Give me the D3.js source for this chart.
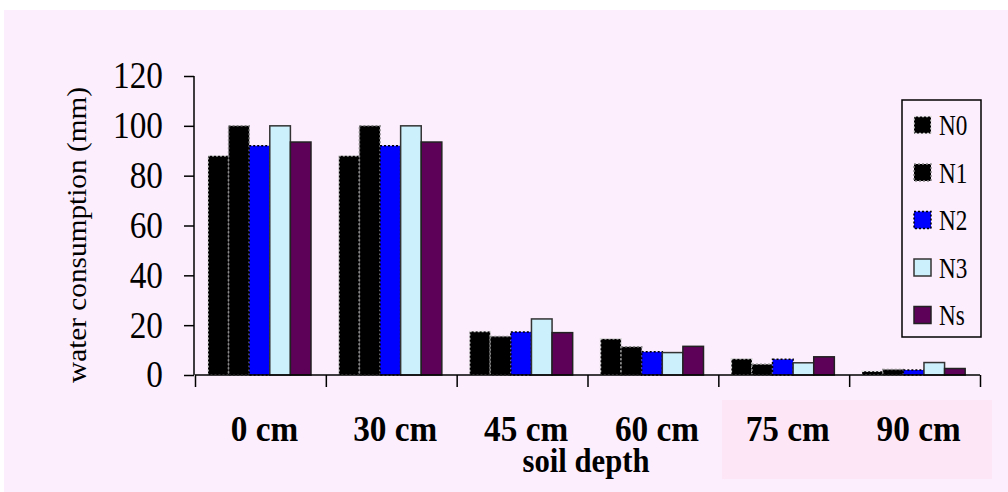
<!DOCTYPE html>
<html>
<head>
<meta charset="utf-8">
<script src="https://cdn.jsdelivr.net/npm/d3@7"></script>
<style>
  body { margin: 0; background: #fff; }
  svg { display: block; }
</style>
</head>
<body>
<script>
// data
var categories = ["0 cm", "30 cm", "45 cm", "60 cm", "75 cm", "90 cm"];
var series = ["N0", "N1", "N2", "N3", "Ns"];
var N0 = [88, 88, 17.5, 14.5, 6.5, 1.5];
var N1 = [100, 100, 15.5, 11.3, 4.3, 2.2];
var N2 = [92, 92, 17.3, 9.3, 6.3, 2];
var N3 = [100, 100, 22.5, 9, 4.9, 5];
var Ns = [93.5, 93.5, 17, 11.5, 7.3, 2.6];
var yTicks = [0, 20, 40, 60, 80, 100, 120];

var values = { N0: N0, N1: N1, N2: N2, N3: N3, Ns: Ns };

// bar looks
var styles = {
    N0: { fill: "#000", stroke: "#ddd", dash: "2,2" },
    N1: { fill: "#000", stroke: "#888", dash: "2,2" },
    N2: { fill: "#0000ff", stroke: "#000", dash: "2,2" },
    N3: { fill: "#ccf0fc", stroke: "#333", dash: null },
    Ns: { fill: "#5c0058", stroke: "#222", dash: null }
};

var width = 1008, height = 492;
var serif = "'Times New Roman', 'Liberation Serif', serif";

// squeeze text a bit, the original font is narrower
function condense(sel, k) {
    sel.each(function() {
        var w = this.getComputedTextLength();
        d3.select(this)
            .attr("textLength", w * k)
            .attr("lengthAdjust", "spacingAndGlyphs");
    });
}

var svg = d3.select("body").append("svg")
    .attr("width", width)
    .attr("height", height);

// background panels
svg.append("rect")
    .attr("x", 4).attr("y", 10)
    .attr("width", width - 4).attr("height", height - 10)
    .attr("fill", "#fceefc");
svg.append("rect")
    .attr("x", 722).attr("y", 400)
    .attr("width", 270).attr("height", 79)
    .attr("fill", "#fde6f6");

var x0 = d3.scaleBand().domain(categories).range([195, 980]).padding(0);
var x1 = d3.scaleBand().domain(series).range([13, 116]).padding(0);
var y = d3.scaleLinear().domain([0, 120]).range([375, 76]);

// bars
var groups = svg.selectAll("g.group")
    .data(categories)
    .enter().append("g")
    .attr("class", "group")
    .attr("transform", function(d) { return "translate(" + x0(d) + ",0)"; });

groups.selectAll("rect")
    .data(function(d, i) {
        return series.map(function(s) { return { s: s, v: values[s][i] }; });
    })
    .enter().append("rect")
    .attr("x", function(d) { return x1(d.s); })
    .attr("y", function(d) { return y(d.v); })
    .attr("width", x1.bandwidth())
    .attr("height", function(d) { return y(0) - y(d.v); })
    .attr("fill", function(d) { return styles[d.s].fill; })
    .attr("stroke", function(d) { return styles[d.s].stroke; })
    .attr("stroke-width", 1.5)
    .attr("stroke-dasharray", function(d) { return styles[d.s].dash; });

// y axis
var yAxis = svg.append("g")
    .attr("transform", "translate(194,0)")
    .call(d3.axisLeft(y).tickValues(yTicks).tickSize(10).tickPadding(21));
yAxis.select(".domain").attr("d", "M0," + y(120) + "V" + y(0)).attr("stroke-width", 1.5);
yAxis.selectAll(".tick line").attr("stroke-width", 1.5);
yAxis.selectAll("text")
    .style("font-family", serif)
    .style("font-size", "37px")
    .attr("fill", "#000")
    .call(condense, 0.9);

// x axis: ticks on group boundaries
var xb = d3.scaleLinear().domain([0, categories.length]).range([195, 980]);
var xAxis = svg.append("g")
    .attr("transform", "translate(0," + y(0) + ")")
    .call(d3.axisBottom(xb).tickValues(d3.range(categories.length + 1)).tickSize(12).tickFormat(""));
xAxis.select(".domain").attr("d", "M195,0H980").attr("stroke-width", 1.5);
xAxis.selectAll(".tick line").attr("stroke-width", 1.5);

// category labels
svg.selectAll("text.cat")
    .data(categories)
    .enter().append("text")
    .attr("class", "cat")
    .attr("x", function(d) { return x0(d) + x0.bandwidth() / 2 + 4; })
    .attr("y", 441)
    .attr("text-anchor", "middle")
    .style("font-family", serif)
    .style("font-weight", "bold")
    .style("font-size", "35px")
    .text(function(d) { return d; })
    .call(condense, 0.95);

svg.append("text")
    .attr("x", 586)
    .attr("y", 472)
    .attr("text-anchor", "middle")
    .style("font-family", serif)
    .style("font-weight", "bold")
    .style("font-size", "33px")
    .text("soil depth")
    .call(condense, 0.93);

svg.append("text")
    .attr("transform", "translate(86,235) rotate(-90)")
    .attr("text-anchor", "middle")
    .attr("textLength", 296)
    .attr("lengthAdjust", "spacingAndGlyphs")
    .style("font-family", serif)
    .style("font-size", "28px")
    .text("water consumption (mm)");

// legend
var legend = svg.append("g").attr("class", "legend");
legend.append("rect")
    .attr("x", 902).attr("y", 100)
    .attr("width", 79).attr("height", 237)
    .attr("fill", "none")
    .attr("stroke", "#000")
    .attr("stroke-width", 1.5);

var ly = d3.scalePoint().domain(series).range([125, 315]);

legend.selectAll("rect.sw")
    .data(series)
    .enter().append("rect")
    .attr("class", "sw")
    .attr("x", 914)
    .attr("y", function(d) { return ly(d) - 8.5; })
    .attr("width", 17).attr("height", 17)
    .attr("fill", function(d) { return styles[d].fill; })
    .attr("stroke", function(d) { return styles[d].stroke; })
    .attr("stroke-width", 1.5)
    .attr("stroke-dasharray", function(d) { return styles[d].dash; });

legend.selectAll("text")
    .data(series)
    .enter().append("text")
    .attr("x", 939)
    .attr("y", function(d) { return ly(d); })
    .attr("dy", "0.35em")
    .style("font-family", serif)
    .style("font-size", "29px")
    .text(function(d) { return d; })
    .call(condense, 0.8);
</script>
</body>
</html>
